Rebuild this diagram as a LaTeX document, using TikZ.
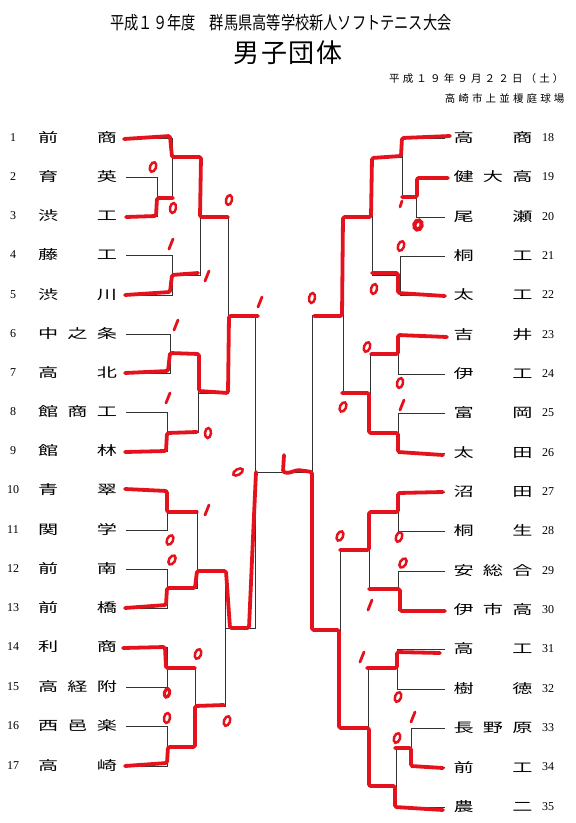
\documentclass[tikz,border=0pt]{standalone}
\usepackage{fontspec}
\setmainfont{Liberation Serif}
\newfontfamily\cjk{Noto Sans CJK JP}
\newfontfamily\cjkls{Noto Sans CJK JP}[LetterSpace=30]
\usetikzlibrary{positioning}
\definecolor{pen}{RGB}{228,18,28}
% wide glyphs of the printed sheet
\newcommand\wch[1]{\scalebox{1.55}[1]{#1}}
\newcommand\two[2]{\makebox[79pt][s]{\wch{#1}\hfill\wch{#2}}}
\newcommand\three[3]{\makebox[79pt][s]{\wch{#1}\hfill\wch{#2}\hfill\wch{#3}}}
\begin{document}
\begin{tikzpicture}[x=1pt,y=-1pt,
  num/.style={font=\fontsize{12}{12}\selectfont, inner sep=0pt},
  team/.style={font=\cjk\fontsize{13}{13}\selectfont, inner sep=0pt},
  bline/.style={line width=0.7pt, black!80},
  win/.style={pen, line width=3.8pt, line join=round, line cap=round, rounded corners=1.5pt},
  zero/.style={pen, line width=2.5pt},
  one/.style={pen, line width=2.8pt, line cap=round}]
\useasboundingbox (0,0) rectangle (576,823);
% header
\node[font=\cjk\fontsize{18}{18}\selectfont] (title) at (281,23)
  {\scalebox{0.79}[1]{平成１９年度　群馬県高等学校新人ソフトテニス大会}};
\node[font=\cjk\fontsize{26}{26}\selectfont] (event) at (288,53)
  {男\hspace{1.5pt}子\hspace{1.5pt}団\hspace{1.5pt}体};
\node[font=\cjkls\fontsize{10.5}{10.5}\selectfont, anchor=east] (date) at (567,79)
  {平成１９年９月２２日（土）};
\node[font=\cjkls\fontsize{10.5}{10.5}\selectfont, anchor=east] (venue) at (568,98)
  {高崎市上並榎庭球場};
% teams, left
\foreach \i/\y/\nm in {1/138/{\two{前}{商}}, 2/177/{\two{育}{英}}, 3/216/{\two{渋}{工}},
  4/255/{\two{藤}{工}}, 5/295/{\two{渋}{川}}, 6/334/{\three{中}{之}{条}},
  7/373/{\two{高}{北}}, 8/412/{\three{館}{商}{工}}, 9/451/{\two{館}{林}},
  10/490/{\two{青}{翠}}, 11/530/{\two{関}{学}}, 12/569/{\two{前}{南}},
  13/608/{\two{前}{橋}}, 14/647/{\two{利}{商}}, 15/687/{\three{高}{経}{附}},
  16/726/{\three{西}{邑}{楽}}, 17/766/{\two{高}{崎}}}{
  \node[num] (k\i) at (13,\y) {\i};
  \node[team] (n\i) at (77.5,\y) {\nm};
}
% teams, right
\foreach \i/\y/\nm in {18/138/{\two{高}{商}}, 19/177/{\three{健}{大}{高}}, 20/217/{\two{尾}{瀬}},
  21/256/{\two{桐}{工}}, 22/295/{\two{太}{工}}, 23/335/{\two{吉}{井}},
  24/374/{\two{伊}{工}}, 25/413/{\two{富}{岡}}, 26/453/{\two{太}{田}},
  27/492/{\two{沼}{田}}, 28/531/{\two{桐}{生}}, 29/571/{\three{安}{総}{合}},
  30/610/{\three{伊}{市}{高}}, 31/649/{\two{高}{工}}, 32/689/{\two{樹}{徳}},
  33/728/{\three{長}{野}{原}}, 34/767/{\two{前}{工}}, 35/807/{\two{農}{二}}}{
  \node[num] (k\i) at (548,\y) {\i};
  \node[team] (n\i) at (493,\y) {\nm};
}
% bracket junctions (vertical line x, output y)
\coordinate (m23) at (157,197);   \coordinate (m1) at (172,157);
\coordinate (m45) at (172,275);   \coordinate (mA) at (200,216);
\coordinate (m67) at (170,353);   \coordinate (m89) at (167,432);
\coordinate (mB) at (198,393);    \coordinate (mL1) at (228,315);
\coordinate (m1011) at (167,510); \coordinate (m1213) at (167,588);
\coordinate (mC) at (197,570);    \coordinate (m1415) at (167,667);
\coordinate (m1617) at (167,746); \coordinate (mD) at (195,706);
\coordinate (mE) at (225,628);    \coordinate (mLF) at (255,472);
\coordinate (m1920) at (416,197); \coordinate (mR1) at (402,157);
\coordinate (m2122) at (400,275); \coordinate (mRA) at (372,216);
\coordinate (m2324) at (398,354); \coordinate (m2526) at (398,433);
\coordinate (mRB) at (370,393);   \coordinate (mR1st) at (343,315);
\coordinate (m2728) at (398,511); \coordinate (m2930) at (398,590);
\coordinate (mRC) at (369,549);   \coordinate (m3132) at (397,668);
\coordinate (m3334) at (411,747); \coordinate (m335) at (396,786);
\coordinate (mRD) at (368,728);   \coordinate (mRE) at (340,630);
\coordinate (mRF) at (312,472);
% black bracket
\foreach \i/\p in {1/m1, 2/m23, 3/m23, 4/m45, 5/m45, 6/m67, 7/m67, 8/m89, 9/m89,
  10/m1011, 11/m1011, 12/m1213, 13/m1213, 14/m1415, 15/m1415, 16/m1617, 17/m1617}
  \draw[bline] ([xshift=9pt]n\i.east) -| (\p);
\foreach \i/\p in {18/mR1, 19/m1920, 20/m1920, 21/m2122, 22/m2122, 23/m2324, 24/m2324,
  25/m2526, 26/m2526, 27/m2728, 28/m2728, 29/m2930, 30/m2930, 31/m3132, 32/m3132,
  33/m3334, 34/m3334, 35/m335}
  \draw[bline] ([xshift=-8pt]n\i.west) -| (\p);
\foreach \c/\p in {m23/m1, m1/mA, m45/mA, m67/mB, m89/mB, mA/mL1, mB/mL1,
  m1011/mC, m1213/mC, m1415/mD, m1617/mD, mC/mE, mD/mE, mL1/mLF, mE/mLF,
  m1920/mR1, mR1/mRA, m2122/mRA, m2324/mRB, m2526/mRB, mRA/mR1st, mRB/mR1st,
  m2728/mRC, m2930/mRC, m3334/m335, m3132/mRD, m335/mRD, mRC/mRE, mRD/mRE,
  mR1st/mRF, mRE/mRF}
  \draw[bline] (\c) -| (\p);
\draw[bline] (mLF) -- (mRF);
% red pen: winners
\draw[win] (124,139) -- (170,136) -- (172,157) -- (201,157) -- (200,217) -- (228,217);
\draw[win] (126,217) -- (156,216) -- (157,198) -- (173,198);
\draw[win] (125,295) -- (170,292) -- (172,275) -- (198,273);
\draw[win] (125,373) -- (168,371) -- (170,353) -- (199,354) -- (199,391) -- (228,393)
  -- (229,316) -- (258,316);
\draw[win] (125,452) -- (166,451) -- (167,433) -- (197,432);
\draw[win] (125,489) -- (167,491) -- (167,512) -- (197,512);
\draw[win] (125,608) -- (166,605) -- (167,588) -- (195,588) -- (197,571) -- (226,571)
  -- (230,628) -- (249,628) -- (252,560) -- (256,472);
\draw[win] (123,648) -- (165,647) -- (166,668) -- (195,668);
\draw[win] (125,766) -- (167,763) -- (168,747) -- (195,747) -- (195,706) -- (224,705);
\draw[win] (450,136) -- (402,138) -- (401,156) -- (372,158) -- (371,217) -- (343,217)
  -- (342,316) -- (314,316);
\draw[win] (448,178) -- (417,178) -- (417,197) -- (402,197);
\draw[win] (445,296) -- (398,293) -- (398,273) -- (372,273);
\draw[win] (447,337) -- (398,335) -- (398,354) -- (371,354);
\draw[win] (443,455) -- (398,452) -- (398,433) -- (369,433) -- (369,393) -- (342,393);
\draw[win] (443,492) -- (398,493) -- (398,512) -- (369,512) -- (369,550) -- (340,550);
\draw[win] (445,611) -- (400,611) -- (400,589) -- (369,589);
\draw[win] (440,653) -- (397,652) -- (397,668) -- (367,668);
\draw[win] (443,768) -- (411,766) -- (411,748) -- (395,748);
\draw[win] (443,810) -- (395,807) -- (395,786) -- (369,786) -- (369,728) -- (339,728)
  -- (339,630) -- (312,630) -- (312,472) -- (298,470) -- (288,473) -- (283,472) -- (284,455);
% red pen: scores
\foreach \x/\y/\r in {153/167/-20, 173/208/-10, 229/200/-15, 208/433/-5, 170/540/-25,
  172/560/-30, 198/654/-20, 167/718/-10, 227/721/-20, 401/246/-20, 374/289/-15,
  312/298/-10, 367/347/-20, 400/383/-15, 343/407/-25, 340/536/-25, 399/537/-20,
  403/563/-30, 398/697/-20, 397/738/-20}
  \draw[zero] (\x,\y) ellipse [x radius=3, y radius=5, rotate=\r];
\draw[zero] (238,472) ellipse [x radius=2.8, y radius=5.3, rotate=-60];
\draw[zero, line width=3.2pt] (167,693) ellipse [x radius=2.6, y radius=4.2, rotate=-15];
\draw[zero, line width=4.2pt] (418,225) ellipse [x radius=3.6, y radius=4.6, rotate=-15];
\foreach \x/\y in {171/244, 207/276, 260/302, 176/325, 168/398, 207/510,
  402/405, 370/605, 362/657, 413/717}
  \draw[one] (\x-2,\y+5) -- (\x+2,\y-5);
\draw[one] (400,207) -- (402,201);
\end{tikzpicture}
\end{document}
